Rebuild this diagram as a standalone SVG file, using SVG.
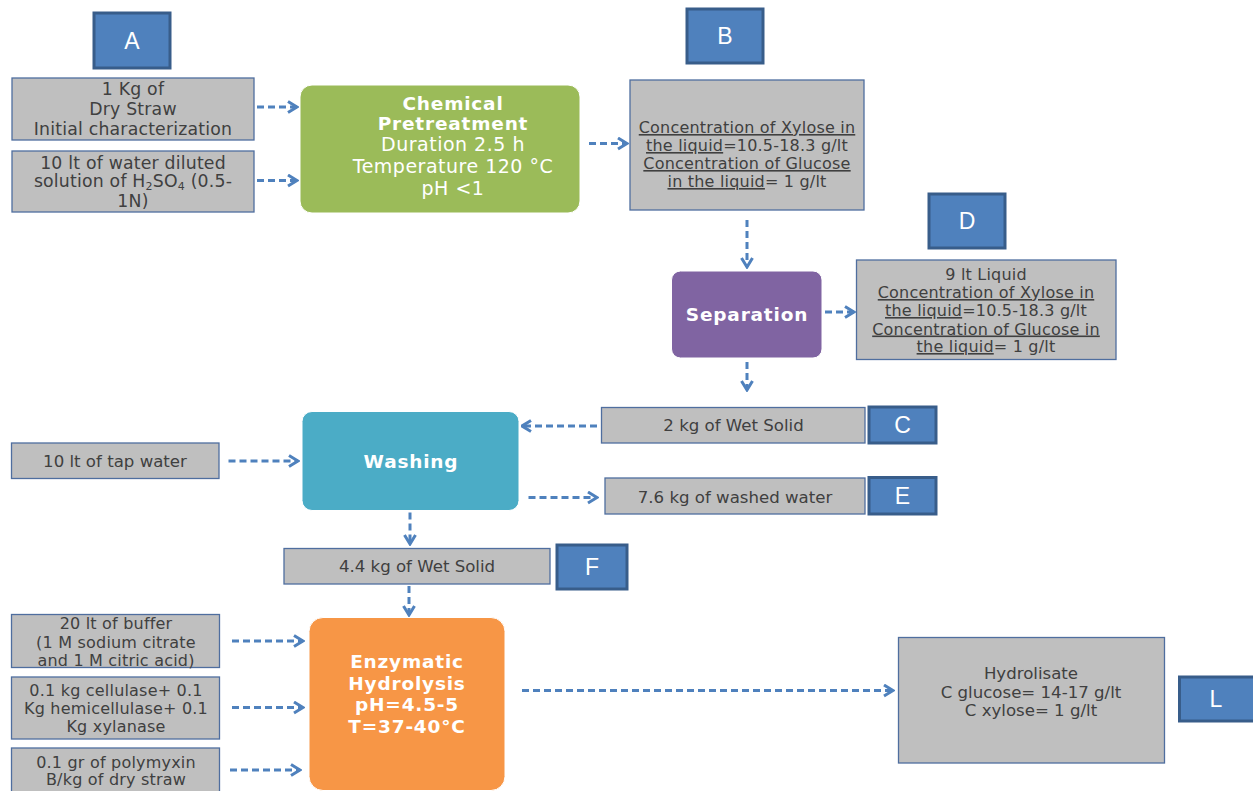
<svg xmlns="http://www.w3.org/2000/svg" width="1253" height="791" viewBox="0 0 1253 791">
<style>
.lbl{fill:#4F81BD;stroke:#385D8A;stroke-width:3}
.lt{font-family:"Liberation Sans",Arial,sans-serif;font-size:23px;fill:#fff;text-anchor:middle}
.gb{fill:#BFBFBF;stroke:#4F6E9F;stroke-width:1.3}
.gt{font-family:"DejaVu Sans",Verdana,sans-serif;font-size:16px;letter-spacing:0.2px;fill:#404040;text-anchor:middle}
.at{font-family:"DejaVu Sans",Verdana,sans-serif;font-size:17.3px;letter-spacing:0.2px;fill:#404040;text-anchor:middle}
.ct{font-family:"DejaVu Sans",Verdana,sans-serif;font-size:16.6px;fill:#404040;text-anchor:middle}
.wt{font-family:"DejaVu Sans",Verdana,sans-serif;font-size:19px;letter-spacing:0.5px;fill:#fff;text-anchor:middle}
.bt{font-family:"DejaVu Sans",Verdana,sans-serif;font-size:18.5px;font-weight:bold;letter-spacing:0.8px;fill:#fff;text-anchor:middle}
.u{text-decoration:underline}
.ar{fill:none;stroke:#4F81BD;stroke-width:3;stroke-dasharray:7 4;marker-end:url(#ah)}
</style>
<defs>
<marker id="ah" markerUnits="userSpaceOnUse" viewBox="0 0 12 14" markerWidth="12" markerHeight="14" refX="10.5" refY="7" orient="auto">
<path d="M1.5,1.5 L10.5,7 L1.5,12.5" fill="none" stroke="#4F81BD" stroke-width="3"/>
</marker>
</defs>
<rect width="1253" height="791" fill="#fff"/>

<g id="labels">
<g id="label-A"><rect class="lbl" x="94" y="13" width="76" height="55"/><text class="lt" x="132" y="49">A</text></g>
<g id="label-B"><rect class="lbl" x="687" y="9" width="76" height="54"/><text class="lt" x="725" y="44">B</text></g>
<g id="label-D"><rect class="lbl" x="929" y="194" width="76" height="54"/><text class="lt" x="967" y="229">D</text></g>
<g id="label-C"><rect class="lbl" x="869" y="407" width="67" height="36"/><text class="lt" x="902.5" y="433">C</text></g>
<g id="label-E"><rect class="lbl" x="869" y="477.5" width="67" height="36.5"/><text class="lt" x="902.5" y="504">E</text></g>
<g id="label-F"><rect class="lbl" x="557" y="545" width="70" height="44"/><text class="lt" x="592" y="575">F</text></g>
<g id="label-L"><rect class="lbl" x="1179.5" y="677" width="75" height="44"/><text class="lt" x="1216" y="707">L</text></g>
</g>

<g id="node-straw">
<rect class="gb" x="12" y="78" width="242" height="62"/>
<text class="at"><tspan x="133" y="94.5">1 Kg of</tspan><tspan x="133" y="115">Dry Straw</tspan><tspan x="133" y="134.5">Initial characterization</tspan></text>
</g>
<g id="node-acid">
<rect class="gb" x="12" y="151" width="242" height="61"/>
<text class="at" font-size="17"><tspan x="133" y="168.5">10 lt of water diluted</tspan><tspan x="133" y="187">solution of H<tspan font-size="11" dy="3">2</tspan><tspan dy="-3">SO</tspan><tspan font-size="11" dy="3">4</tspan><tspan dy="-3"> (0.5-</tspan></tspan><tspan x="133" y="207">1N)</tspan></text>
</g>
<g id="node-pretreatment">
<rect x="300" y="85" width="280" height="128" rx="12" fill="#9BBB59" stroke="#fff" stroke-width="1"/>
<text class="bt"><tspan x="453" y="109.5">Chemical</tspan><tspan x="453" y="130">Pretreatment</tspan></text>
<text class="wt"><tspan x="453" y="151">Duration 2.5 h</tspan><tspan x="453" y="173">Temperature 120 °C</tspan><tspan x="453" y="195">pH &lt;1</tspan></text>
</g>
<g id="node-B">
<rect class="gb" x="630" y="80" width="234" height="130"/>
<text class="gt"><tspan x="747" y="133" class="u">Concentration of Xylose in</tspan><tspan x="747" y="151"><tspan class="u">the liquid</tspan>=10.5-18.3 g/lt</tspan><tspan x="747" y="169" class="u">Concentration of Glucose</tspan><tspan x="747" y="187"><tspan class="u">in the liquid</tspan>= 1 g/lt</tspan></text>
</g>
<g id="node-separation">
<rect x="671.5" y="271" width="150.5" height="87" rx="9" fill="#8064A2" stroke="#fff" stroke-width="1"/>
<text class="bt" x="747" y="321">Separation</text>
</g>
<g id="node-D">
<rect class="gb" x="856.5" y="260" width="259.5" height="99.5"/>
<text class="gt"><tspan x="986" y="279.5">9 lt Liquid</tspan><tspan x="986" y="298" class="u">Concentration of Xylose in</tspan><tspan x="986" y="316"><tspan class="u">the liquid</tspan>=10.5-18.3 g/lt</tspan><tspan x="986" y="334.5" class="u">Concentration of Glucose in</tspan><tspan x="986" y="352"><tspan class="u">the liquid</tspan>= 1 g/lt</tspan></text>
</g>
<g id="node-wetsolid2">
<rect class="gb" x="601.5" y="407.5" width="263.5" height="35.5"/>
<text class="ct" x="733.5" y="431">2 kg of Wet Solid</text>
</g>
<g id="node-washing">
<rect x="302" y="411.5" width="217" height="99" rx="10" fill="#4BACC6" stroke="#fff" stroke-width="1"/>
<text class="bt" x="411" y="467.5">Washing</text>
</g>
<g id="node-tapwater">
<rect class="gb" x="11.5" y="443" width="207.5" height="35.5"/>
<text class="ct" x="115" y="467">10 lt of tap water</text>
</g>
<g id="node-washedwater">
<rect class="gb" x="605" y="478" width="260" height="36"/>
<text class="ct" x="735" y="502.5">7.6 kg of washed water</text>
</g>
<g id="node-wetsolid44">
<rect class="gb" x="284" y="548.5" width="266" height="35.5"/>
<text class="ct" x="417" y="572">4.4 kg of Wet Solid</text>
</g>
<g id="node-hydrolysis">
<rect x="309" y="617.5" width="196" height="173" rx="14" fill="#F79646" stroke="#fff" stroke-width="1"/>
<text class="bt" font-size="19" letter-spacing="1.4"><tspan x="407" y="668">Enzymatic</tspan><tspan x="407" y="689.5">Hydrolysis</tspan><tspan x="407" y="711">pH=4.5-5</tspan><tspan x="407" y="733">T=37-40°C</tspan></text>
</g>
<g id="node-buffer">
<rect class="gb" x="11.5" y="614.5" width="208" height="53"/>
<text class="gt" letter-spacing="0.25"><tspan x="116" y="629">20 lt of buffer</tspan><tspan x="116" y="647.5">(1 M sodium citrate</tspan><tspan x="116" y="666">and 1 M citric acid)</tspan></text>
</g>
<g id="node-enzymes">
<rect class="gb" x="11.5" y="677" width="208" height="62"/>
<text class="gt" letter-spacing="0.25"><tspan x="116" y="696">0.1 kg cellulase+ 0.1</tspan><tspan x="116" y="713.5">Kg hemicellulase+ 0.1</tspan><tspan x="116" y="731.5">Kg xylanase</tspan></text>
</g>
<g id="node-polymyxin">
<rect class="gb" x="11.5" y="748" width="208" height="50"/>
<text class="gt" letter-spacing="0.25"><tspan x="116" y="767.5">0.1 gr of polymyxin</tspan><tspan x="116" y="784.5">B/kg of dry straw</tspan></text>
</g>
<g id="node-hydrolisate">
<rect class="gb" x="898.5" y="637.5" width="266" height="125.5"/>
<text class="ct"><tspan x="1031" y="678.5">Hydrolisate</tspan><tspan x="1031" y="698">C glucose= 14-17 g/lt</tspan><tspan x="1031" y="716">C xylose= 1 g/lt</tspan></text>
</g>

<g id="connectors">
<line class="ar" x1="257" y1="107" x2="297" y2="107"/>
<line class="ar" x1="257" y1="180.5" x2="297" y2="180.5"/>
<line class="ar" x1="589" y1="143.5" x2="627" y2="143.5"/>
<line class="ar" x1="747" y1="220" x2="747" y2="267"/>
<line class="ar" x1="825" y1="312" x2="854" y2="312"/>
<line class="ar" x1="747" y1="362" x2="747" y2="390"/>
<line class="ar" x1="597" y1="426" x2="522" y2="426"/>
<line class="ar" x1="228.5" y1="461" x2="298" y2="461"/>
<line class="ar" x1="528.5" y1="497.5" x2="597" y2="497.5"/>
<line class="ar" x1="410" y1="512.5" x2="410" y2="544"/>
<line class="ar" x1="409" y1="586" x2="409" y2="615"/>
<line class="ar" x1="232" y1="641" x2="303" y2="641"/>
<line class="ar" x1="232" y1="707.5" x2="303" y2="707.5"/>
<line class="ar" x1="230" y1="770" x2="300" y2="770"/>
<line class="ar" x1="522" y1="690.5" x2="893" y2="690.5"/>
</g>
</svg>
